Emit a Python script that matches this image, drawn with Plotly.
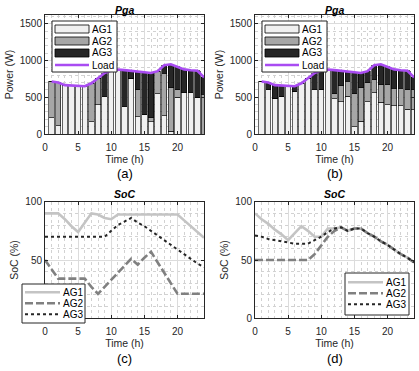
import plotly.graph_objects as go

# ---------------- data ----------------
hours = list(range(1, 25))
soc_hours = list(range(0, 25))

load = [715, 700, 665, 660, 655, 650, 690, 760, 830, 865, 878, 870,
        862, 855, 840, 830, 855, 935, 950, 915, 880, 868, 860, 770]

# (a) stacked generation per agent
ag1_a = [220, 110, 665, 660, 655, 650, 170, 400, 505, 865, 878, 370,
         760, 235, 270, 165, 550, 250, 40, 500, 560, 560, 500, 0]
ag2_a = [495, 590, 0, 0, 0, 0, 520, 360, 0, 0, 0, 0,
         0, 370, 0, 55, 305, 580, 590, 100, 0, 0, 0, 540]
ag3_a = [0, 0, 0, 0, 0, 0, 0, 0, 325, 0, 0, 500,
         102, 250, 570, 610, 0, 105, 320, 315, 320, 308, 360, 230]

# (b) stacked generation per agent
ag1_b = [715, 600, 490, 515, 655, 580, 690, 760, 605, 610, 878, 480,
         440, 515, 100, 175, 440, 560, 430, 400, 385, 385, 335, 330]
ag2_b = [0, 0, 0, 0, 0, 0, 0, 0, 0, 0, 0, 65,
         215, 200, 445, 455, 260, 180, 240, 270, 240, 240, 270, 275]
ag3_b = [0, 100, 175, 145, 0, 70, 0, 0, 225, 255, 0, 325,
         207, 140, 295, 200, 155, 195, 280, 245, 255, 243, 255, 165]

# (c) state of charge
soc_c_ag1 = [90, 90, 90, 85, 79, 74, 82, 90, 89, 86, 85, 89, 89,
             89, 89, 89, 89, 89, 89, 89, 89, 84, 79, 74, 69]
soc_c_ag2 = [50, 42, 34, 34, 34, 34, 34, 27, 21, 27, 33, 39, 45,
             51, 46, 52, 57, 48, 39, 30, 21, 21, 21, 21, 21]
soc_c_ag3 = [70, 70, 70, 70, 70, 70, 70, 70, 70, 70, 75, 80, 83,
             86, 82, 79, 75, 71, 67, 63, 59, 55, 51, 47, 44]

# (d) state of charge
soc_d_ag1 = [90, 85, 81, 76, 72, 67, 73, 79, 75, 70, 70, 77, 77,
             78, 75, 77, 77, 73, 70, 66, 63, 59, 55, 52, 48]
soc_d_ag2 = [50, 50, 50, 50, 50, 50, 50, 50, 50, 55, 63, 70, 75,
             78, 75, 77, 77, 73, 70, 66, 63, 59, 55, 52, 48]
soc_d_ag3 = [71, 70, 68, 67, 66, 65, 64, 64, 64, 67, 70, 74, 77,
             78, 75, 77, 77, 73, 70, 66, 63, 59, 55, 52, 48]

agent_names = ["AG1", "AG2", "AG3"]
load_name = "Load"
panel_titles = ["Pga", "Pga", "SoC", "SoC"]
panel_tags = ["(a)", "(b)", "(c)", "(d)"]

# ---------------- styling ----------------
W, H = 419, 371
FONT = "Liberation Sans, Arial, sans-serif"
AX = "#262626"
bar_colors = ["#f0f0f0", "#a6a6a6", "#262626"]
load_color = "#a94cf2"
soc_styles = [dict(color="#c4c4c4", width=2.6, dash="solid"),
              dict(color="#808080", width=2.6, dash="8px,3px"),
              dict(color="#262626", width=2.0, dash="dot")]


def px(x):
    return x / W


def py(y):
    return 1 - y / H


fig = go.Figure()

# bars + load
for (ax, ay), stacks in [(("x", "y"), (ag1_a, ag2_a, ag3_a)),
                         (("x2", "y2"), (ag1_b, ag2_b, ag3_b))]:
    for name, vals, col in zip(agent_names, stacks, bar_colors):
        fig.add_trace(go.Bar(x=hours, y=vals, name=name, width=0.8,
                             marker=dict(color=col, line=dict(color="black", width=0.6)),
                             xaxis=ax, yaxis=ay, showlegend=False))
    fig.add_trace(go.Scatter(x=hours, y=load, name=load_name, mode="lines",
                             line=dict(color=load_color, width=2.6),
                             xaxis=ax, yaxis=ay, showlegend=False))

# SoC lines
for (ax, ay), series in [(("x3", "y3"), (soc_c_ag1, soc_c_ag2, soc_c_ag3)),
                         (("x4", "y4"), (soc_d_ag1, soc_d_ag2, soc_d_ag3))]:
    for name, vals, st in zip(agent_names, series, soc_styles):
        fig.add_trace(go.Scatter(x=soc_hours, y=vals, name=name, mode="lines",
                                 line=st, xaxis=ax, yaxis=ay, showlegend=False))

tickfont = dict(family=FONT, size=10, color=AX)
titlefont = dict(family=FONT, size=10.5, color=AX)


def xaxis(dom, anchor):
    return dict(domain=dom, anchor=anchor, range=[0, 24], tick0=0, dtick=5,
                ticks="inside", ticklen=3, tickcolor=AX, showline=True,
                mirror="ticks", linecolor=AX, linewidth=1, zeroline=False,
                showgrid=True, gridcolor="#dcdcdc", gridwidth=1,
                minor=dict(dtick=1, showgrid=True, gridcolor="#d2d2d2",
                           griddash="dot", gridwidth=1),
                tickfont=tickfont, automargin=False, ticklabelstandoff=4,
                title=dict(text="Time (h)", font=titlefont, standoff=2))


def yaxis(dom, anchor, rng, dt, mdt, title):
    return dict(domain=dom, anchor=anchor, range=rng, tick0=0, dtick=dt,
                ticks="inside", ticklen=3, tickcolor=AX, showline=True,
                mirror="ticks", linecolor=AX, linewidth=1, zeroline=False,
                showgrid=True, gridcolor="#dcdcdc", gridwidth=1,
                minor=dict(dtick=mdt, showgrid=True, gridcolor="#d2d2d2",
                           griddash="dot", gridwidth=1),
                tickfont=tickfont, automargin=False,
                title=dict(text=title, font=titlefont, standoff=4))


xl = [px(45), px(204)]
xr = [px(255), px(414)]
yt = [py(134), py(15)]
yb = [py(318.3), py(201.7)]

fig.update_layout(
    width=W, height=H, autosize=False,
    margin=dict(l=0, r=0, t=0, b=0),
    paper_bgcolor="white", plot_bgcolor="white",
    barmode="stack", bargap=0.2,
    showlegend=False,
    xaxis=xaxis(xl, "y"), yaxis=yaxis(yt, "x", [0, 1620], 500, 100, "Power (W)"),
    xaxis2=xaxis(xr, "y2"), yaxis2=yaxis(yt, "x2", [0, 1620], 500, 100, "Power (W)"),
    xaxis3=xaxis(xl, "y3"), yaxis3=yaxis(yb, "x3", [0, 100], 50, 10, "SoC (%)"),
    xaxis4=xaxis(xr, "y4"), yaxis4=yaxis(yb, "x4", [0, 100], 50, 10, "SoC (%)"),
)

annotations = []
shapes = []

# panel titles and tags
centers = [124.5, 334.5, 124.5, 334.5]
title_y = [10, 10, 194, 194]
tag_y = [173, 173, 358, 358]
for cx, ty, gy, t, g in zip(centers, title_y, tag_y, panel_titles, panel_tags):
    annotations.append(dict(x=px(cx), y=py(ty), xref="paper", yref="paper",
                            text=f"<b><i>{t}</i></b>", showarrow=False,
                            font=dict(family=FONT, size=10.5, color="black"),
                            xanchor="center", yanchor="middle"))
    annotations.append(dict(x=px(cx), y=py(gy), xref="paper", yref="paper",
                            text=g, showarrow=False,
                            font=dict(family=FONT, size=13, color="black"),
                            xanchor="center", yanchor="middle"))

legend_font = dict(family=FONT, size=10, color="black")


def box(x0, y0, x1, y1):
    shapes.append(dict(type="rect", xref="paper", yref="paper", layer="above",
                       x0=px(x0), x1=px(x1), y0=py(y1), y1=py(y0),
                       fillcolor="white", line=dict(color=AX, width=1)))


def label(x, y, text):
    annotations.append(dict(x=px(x), y=py(y), xref="paper", yref="paper",
                            text=text, showarrow=False, font=legend_font,
                            xanchor="left", yanchor="middle", borderpad=0))


# legends for power panels
for off in (0, 210):
    box(52 + off, 21, 117 + off, 72)
    for i, (name, col) in enumerate(zip(agent_names, bar_colors)):
        yc = 29 + 12 * i
        shapes.append(dict(type="rect", xref="paper", yref="paper", layer="above",
                           x0=px(55 + off), x1=px(89 + off), y0=py(yc + 4), y1=py(yc - 4),
                           fillcolor=col, line=dict(color="black", width=0.8)))
        label(91 + off, yc, name)
    shapes.append(dict(type="line", xref="paper", yref="paper", layer="above",
                       x0=px(55 + off), x1=px(89 + off), y0=py(65), y1=py(65),
                       line=dict(color=load_color, width=2.6)))
    label(91 + off, 65, load_name)

# legends for SoC panels
for (bx0, by0, bx1, by1, lx0, lx1, ly0) in [(22, 284, 85, 323, 25, 60, 292.3),
                                            (345, 273, 409, 315, 348, 383, 282.3)]:
    box(bx0, by0, bx1, by1)
    for i, (name, st) in enumerate(zip(agent_names, soc_styles)):
        yc = ly0 + 11 * i
        shapes.append(dict(type="line", xref="paper", yref="paper", layer="above",
                           x0=px(lx0), x1=px(lx1), y0=py(yc), y1=py(yc),
                           line=dict(color=st["color"], width=st["width"], dash=st["dash"])))
        label(lx1 + 2, yc, name)

fig.update_layout(annotations=annotations, shapes=shapes)

fig.write_html("out.html", config={"displayModeBar": False},
               post_script="document.body.style.margin='0px';document.body.style.overflow='hidden';")
